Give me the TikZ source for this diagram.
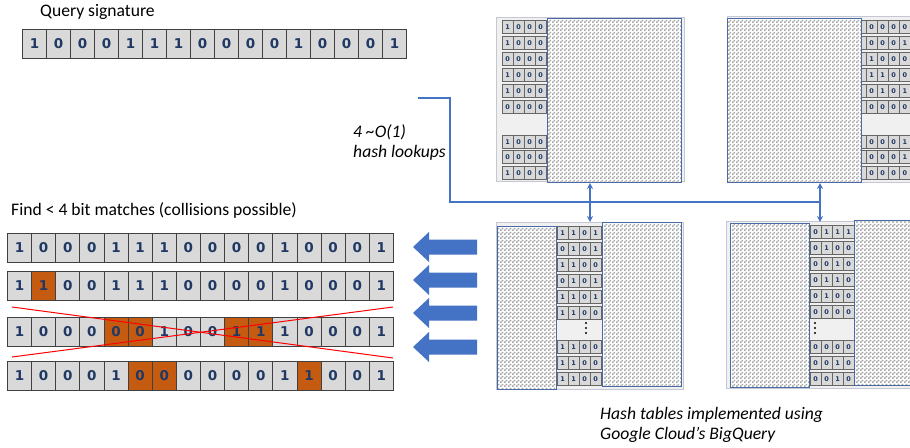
\documentclass[tikz,border=0pt]{standalone}
\usepackage{fontspec}
\setmainfont{Carlito}
\newfontfamily\digitfont{DejaVu Sans}
\usetikzlibrary{patterns,arrows.meta}
\pgfdeclarepatternformonly{finechecker}{\pgfqpoint{0pt}{0pt}}{\pgfqpoint{4pt}{4pt}}{\pgfqpoint{4pt}{4pt}}{%
  \pgfpathrectangle{\pgfqpoint{0pt}{0pt}}{\pgfqpoint{2pt}{2pt}}%
  \pgfpathrectangle{\pgfqpoint{2pt}{2pt}}{\pgfqpoint{2pt}{2pt}}%
  \pgfusepath{fill}}
\definecolor{cG}{HTML}{D9D9D9}
\definecolor{cO}{HTML}{C55A11}
\definecolor{celledge}{HTML}{404040}
\definecolor{digitblue}{HTML}{1F3864}
\definecolor{arrowblue}{HTML}{4472C4}
\definecolor{panelbg}{HTML}{F0F0F0}
\definecolor{paneledge}{HTML}{C3C8D4}
\definecolor{checkedge}{HTML}{4A6AA5}
\tikzset{
  bigcell/.style={draw=celledge, line width=1pt, fill=#1, minimum width=24.1pt,
    minimum height=29pt, inner sep=0pt, anchor=north west, text=digitblue,
    font=\digitfont\fontsize{13.5}{13.5}\selectfont\bfseries},
  smallcell/.style={draw=celledge!80, line width=0.5pt, fill=cG, minimum width=11pt,
    minimum height=13pt, inner sep=0pt, anchor=north west, text=digitblue,
    font=\digitfont\fontsize{6.5}{6.5}\selectfont\bfseries},
  panel/.style={fill=panelbg, draw=paneledge, line width=0.8pt},
  checker/.style={pattern=finechecker, pattern color=black!35},
  checkframe/.style={draw=checkedge, line width=0.8pt},
  label/.style={anchor=base west, inner sep=0pt, font=\fontsize{17.6}{20}\selectfont},
  ilabel/.style={anchor=base west, inner sep=0pt, font=\fontsize{17.6}{20}\selectfont\itshape},
  link/.style={draw=arrowblue, line width=1.5pt},
  linktip/.style={link, -{Stealth[length=6pt,width=6pt]}},
  bigarrow/.style={fill=arrowblue},
  cross/.style={draw=red, line width=1pt}
}
\newcommand\bitrow[5]{% name, x, y, cell width, list
  \foreach \b/\c [count=\i from 0] in {#5} {\node[bigcell=\c, minimum width=#4pt] (#1-\i) at ({#2+#4*\i},#3) {\b};}}
\newcommand\smallrow[4]{% name, x, y, digit-list macro
  \foreach \dd [count=\i from 0] in #4 {\node[smallcell] (#1-\i) at ({#2+11*\i},#3) {\dd};}}
\newcommand\checkbox[4]{%
  \fill[white] (#1,#2) rectangle (#3,#4);
  \fill[checker] (#1,#2) rectangle (#3,#4);
  \draw[checkframe] (#1,#2) rectangle (#3,#4);}
\newcommand\vdotsat[2]{%
  \foreach \k in {-5,0,5} {\fill[black] (#1,#2+\k) circle (1.2pt);}}
\begin{document}
\begin{tikzpicture}[x=1pt,y=-1pt]
\useasboundingbox (0,0) rectangle (910,447);

% labels
\node[label] (qlabel) at (40,16.5) {Query signature};
\node[label] (flabel) at (11,215) {Find < 4 bit matches (collisions possible)};
\node[ilabel] (lookupsA) at (353,137) {4 \textasciitilde O(1)};
\node[ilabel] (lookupsB) at (353,157) {hash lookups};
\node[ilabel] (bqA) at (600,419) {Hash tables implemented using};
\node[ilabel] (bqB) at (600,439) {Google Cloud’s BigQuery};

% query signature
\bitrow{q}{22}{29}{24}{1/cG,0/cG,0/cG,0/cG,1/cG,1/cG,1/cG,0/cG,0/cG,0/cG,0/cG,1/cG,0/cG,0/cG,0/cG,1/cG}

% matches
\bitrow{ra}{7}{233}{24.125}{1/cG,0/cG,0/cG,0/cG,1/cG,1/cG,1/cG,0/cG,0/cG,0/cG,0/cG,1/cG,0/cG,0/cG,0/cG,1/cG}
\bitrow{rb}{7}{271}{24.125}{1/cG,1/cO,0/cG,0/cG,1/cG,1/cG,1/cG,0/cG,0/cG,0/cG,0/cG,1/cG,0/cG,0/cG,0/cG,1/cG}
\bitrow{rc}{7}{317}{24.125}{1/cG,0/cG,0/cG,0/cG,0/cO,0/cO,1/cG,0/cG,0/cG,1/cO,1/cO,1/cG,0/cG,0/cG,0/cG,1/cG}
\bitrow{rd}{7}{361}{24.125}{1/cG,0/cG,0/cG,0/cG,1/cG,0/cO,0/cO,0/cG,0/cG,0/cG,0/cG,1/cG,1/cO,0/cG,0/cG,1/cG}

% red cross
\coordinate (xa) at (12,307); \coordinate (xb) at (393,358);
\coordinate (xc) at (12,357); \coordinate (xd) at (393,307);
\draw[cross] (xa) -- (xb);
\draw[cross] (xc) -- (xd);

% big blue arrows
\foreach \yc in {247,280,313,347} {
  \fill[bigarrow] (413,\yc) -- (429,\yc-15) -- (429,\yc-7.5) -- (477,\yc-7.5)
    -- (477,\yc+7.5) -- (429,\yc+7.5) -- (429,\yc+15) -- cycle;
}

% ---- top-left table
\draw[panel] (496,17) rectangle (684,181);
\foreach \y/\v [count=\n] in {20/{1,0,0,0},36/{1,0,0,0},52/{0,0,0,0},68/{1,0,0,0},84/{1,0,0,0},100/{0,0,0,0},135/{1,0,0,0},150/{0,0,0,0},166/{1,0,0,0}}
  {\smallrow{tl\n}{502}{\y}{\v}}
\checkbox{547}{18}{681}{182}

% ---- top-right table
\draw[panel] (727,16) rectangle (910,182);
\foreach \y/\v [count=\n] in {20/{0,0,0,0},36/{0,0,0,1},52/{1,0,0,0},68/{1,1,0,0},84/{0,1,0,1},100/{0,0,0,0},135/{0,0,0,1},150/{0,0,0,1},166/{0,0,0,0}}
  {\node[smallcell] (trp\n) at (855,\y) {}; \smallrow{tr\n}{866}{\y}{\v}}
\checkbox{727}{18}{861}{182}

% ---- bottom-left table
\draw[panel] (496,222) rectangle (683,389);
\checkbox{497}{226}{556}{389}
\foreach \y/\v [count=\n] in {226/{1,1,0,1},242/{0,1,0,1},258/{1,1,0,0},274/{0,1,0,1},290/{1,1,0,1},306/{1,1,0,0},340/{1,1,0,0},356/{1,1,0,0},372/{1,1,0,0}}
  {\smallrow{bl\n}{557}{\y}{\v}}
\vdotsat{586}{328}
\checkbox{602}{222}{681}{386}

% ---- bottom-right table
\draw[panel] (726,221) rectangle (910,388);
\checkbox{730}{223}{809}{387}
\foreach \y/\v [count=\n] in {225/{0,1,1,1},241/{0,1,0,0},257/{0,0,1,0},273/{0,1,1,0},289/{0,1,0,0},305/{0,0,0,0},340/{0,0,0,0},356/{0,0,1,0},372/{0,0,1,0}}
  {\smallrow{br\n}{810}{\y}{\v}}
\vdotsat{815}{328}
\checkbox{854}{220}{912}{385}

% ---- lookup connectors
\coordinate (lookup) at (418,98);
\coordinate (bendA) at (450,98);
\coordinate (bendB) at (450,202);
\coordinate (jA) at (590,202);
\coordinate (jB) at (820,202);
\coordinate (tlIn) at (590,183);
\coordinate (trIn) at (820,183);
\coordinate (blIn) at (590,222);
\coordinate (brIn) at (820,222);
\draw[link] (lookup) -- (bendA) -- (bendB) -- (jB);
\draw[linktip] (jA) -- (tlIn);
\draw[linktip] (jA) -- (blIn);
\draw[linktip] (jB) -- (trIn);
\draw[linktip] (jB) -- (brIn);
\end{tikzpicture}
\end{document}
